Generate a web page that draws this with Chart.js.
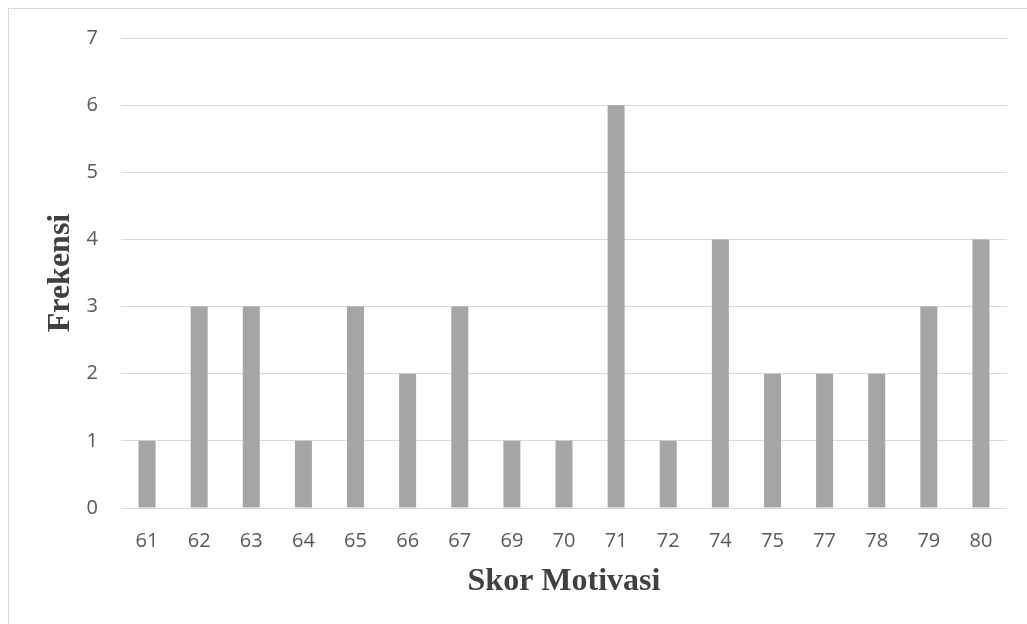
<!DOCTYPE html>
<html>
<head>
<meta charset="utf-8">
<script src="https://cdn.jsdelivr.net/npm/chart.js@4"></script>
<style>
  html, body { margin: 0; padding: 0; background: #fff; overflow: hidden; }
  #wrap { position: relative; width: 1027px; height: 624px; }
  #frame { position: absolute; left: 8px; top: 8px; width: 1100px; height: 700px; border: 1px solid #d9d9d9; }
  canvas { position: absolute; left: 0; top: 0; }
</style>
</head>
<body>
<div id="wrap">
  <div id="frame"></div>
  <canvas id="barChart" width="1027" height="624"></canvas>
</div>
<script>
const scores = ["61", "62", "63", "64", "65", "66", "67", "69", "70", "71", "72", "74", "75", "77", "78", "79", "80"];
const frequency = [1, 3, 3, 1, 3, 2, 3, 1, 1, 6, 1, 4, 2, 2, 2, 3, 4];
const yTicks = [0, 1, 2, 3, 4, 5, 6, 7];

const showElement = document.getElementById("barChart");

new Chart(showElement, {
  type: "bar",
  data: {
    labels: scores,
    datasets: [
      {
        label: "Frekensi",
        data: frequency,
        backgroundColor: "#a5a5a5",
        borderWidth: 0,
        barPercentage: 0.326,
        categoryPercentage: 1
      }
    ]
  },
  options: {
    responsive: false,
    animation: false,
    layout: { padding: { top: 38, right: 20, left: 0, bottom: 0 } },
    plugins: {
      legend: { display: false },
      tooltip: { enabled: false }
    },
    scales: {
      x: {
        grid: { display: false, drawTicks: false },
        border: { display: false },
        ticks: {
          color: "#595959",
          font: { family: "Open Sans", size: 20 },
          padding: 21,
          maxRotation: 0
        },
        title: {
          display: true,
          text: "Skor Motivasi",
          color: "#404040",
          font: { family: "Liberation Serif", size: 32, weight: "bold" },
          padding: { top: 0, bottom: 23 }
        },
        afterFit: (scale) => { scale.height = 116; }
      },
      y: {
        min: 0,
        max: 7,
        afterBuildTicks: (scale) => { scale.ticks = yTicks.map(v => ({ value: v })); },
        grid: { color: "#d9d9d9", lineWidth: 1, drawTicks: false },
        border: { display: false },
        ticks: {
          color: "#595959",
          font: { family: "Open Sans", size: 20 },
          padding: 23
        },
        title: {
          display: true,
          text: "Frekensi",
          color: "#404040",
          font: { family: "Liberation Serif", size: 32, weight: "bold" },
          padding: { top: 42, bottom: 0 }
        },
        afterFit: (scale) => { scale.width = 121; }
      }
    }
  }
});
</script>
</body>
</html>
